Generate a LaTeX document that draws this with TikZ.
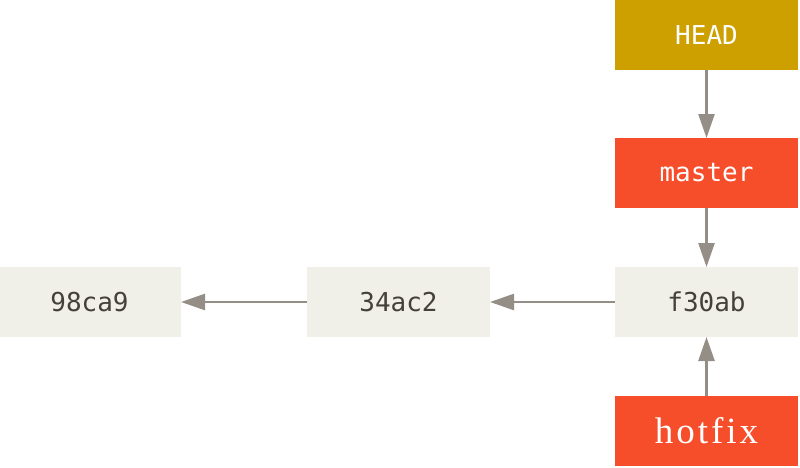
\documentclass[tikz,border=0pt]{standalone}
\usepackage{fontspec}
\usetikzlibrary{positioning,arrows.meta}
\newfontfamily\monofont{DejaVu Sans Mono}
\newfontfamily\serifwide[LetterSpace=8]{Liberation Serif}
\definecolor{commitbg}{RGB}{240,239,232}
\definecolor{committext}{RGB}{68,64,60}
\definecolor{branchred}{RGB}{246,77,43}
\definecolor{headgold}{RGB}{205,160,0}
\definecolor{arrowgray}{RGB}{148,142,134}
\begin{document}
\begin{tikzpicture}[
			x=1pt, y=1pt,
			commit/.style={rectangle, fill=commitbg, text=committext, minimum width=183pt, minimum height=70pt, inner sep=0pt, outer sep=0pt, font=\monofont\fontsize{26}{30}\selectfont},
			branch/.style={commit, fill=branchred, text=white},
			arrow/.style={-{Triangle[length=24pt,width=16pt]}, line width=2.5pt, draw=arrowgray}
		]
		\useasboundingbox (0,0) rectangle (800,467);
		\node[branch, fill=headgold] (head) at (706.5,432) {HEAD};
		\node[branch, below=68pt of head] (master) {master};
		\node[commit, below=59pt of master] (f30ab) {f30ab};
		\node[branch, below=59pt of f30ab, font=\serifwide\fontsize{37}{40}\selectfont] (hotfix) {hotfix};
		\node[commit, left=125pt of f30ab] (c34ac2) {34ac2};
		\node[commit, left=126pt of c34ac2] (c98ca9) {98ca9};

		\draw[arrow] (head) -- (master);
		\draw[arrow] (master) -- (f30ab);
		\draw[arrow] (hotfix) -- (f30ab);
		\draw[arrow] (f30ab) -- (c34ac2);
		\draw[arrow] (c34ac2) -- (c98ca9);
	\end{tikzpicture}
\end{document}
